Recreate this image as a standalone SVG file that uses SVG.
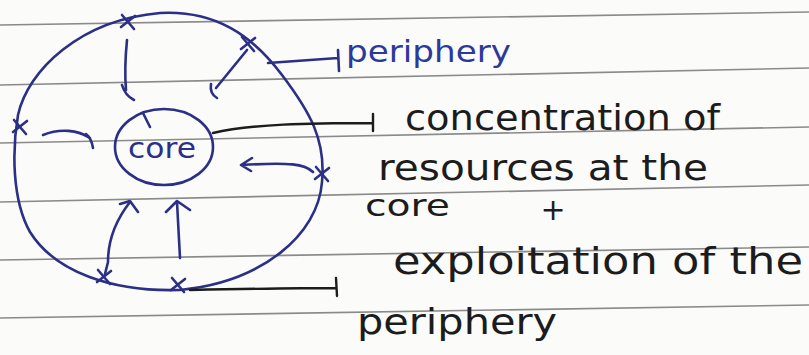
<svg xmlns="http://www.w3.org/2000/svg" width="809" height="355" viewBox="0 0 809 355">
<style>
.rule{stroke:#8a8a8a;stroke-width:1.6;fill:none}
.blue{stroke:#2b2f86;stroke-width:2.6;fill:none;stroke-linecap:round;stroke-linejoin:round}
.ink{stroke:#1c1c1c;stroke-width:2.4;fill:none;stroke-linecap:round;stroke-linejoin:round}
.hand{font-family:"DejaVu Sans",sans-serif;fill:#1c1c1c}
.bluetext{font-family:"DejaVu Sans",sans-serif;fill:#2b3a9a}
</style>
<defs>
<path id="xm" d="M-6,-7 L6,7 M-7,5 L7,-6"/>
</defs>
<rect width="809" height="355" fill="#fbfbfa"/>
<g id="paper-lines">
<line class="rule" x1="0" y1="25" x2="809" y2="12"/>
<line class="rule" x1="0" y1="85" x2="809" y2="68"/>
<line class="rule" x1="0" y1="143" x2="809" y2="127"/>
<line class="rule" x1="0" y1="202" x2="809" y2="185"/>
<line class="rule" x1="0" y1="260" x2="809" y2="247"/>
<line class="rule" x1="0" y1="318" x2="809" y2="305"/>
</g>
<g id="periphery-circle">
<path class="blue" d="M160,13 C215,10 252,35 282,75 C310,112 326,140 322,182 C318,235 262,282 180,290 C112,292 55,272 30,232 C12,200 12,150 18,115 C28,70 80,20 160,13 Z"/>
<use href="#xm" class="blue" x="128" y="22"/>
<use href="#xm" class="blue" x="248" y="44"/>
<use href="#xm" class="blue" x="20" y="127"/>
<use href="#xm" class="blue" x="322" y="174"/>
<use href="#xm" class="blue" x="104" y="277"/>
<use href="#xm" class="blue" x="178" y="285"/>
</g>
<g id="core">
<ellipse class="blue" cx="164" cy="147" rx="49" ry="38"/>
<text x="128" y="158" font-size="28" textLength="68" lengthAdjust="spacingAndGlyphs" style="font-family:'DejaVu Sans',sans-serif;fill:#2b2f86">core</text>
</g>
<g id="connectors">
<path class="blue" d="M127,40 C125,60 125,78 126,90 M122,85 C124,92 128,97 134,100"/>
<path class="blue" d="M247,50 L216,88 M211,84 C210,90 212,95 217,98"/>
<path class="blue" d="M43,135 C60,128 78,130 90,138 M86,134 C90,137 92,142 93,148"/>
<path class="blue" d="M313,172 C305,164 290,162 242,165 M252,158 L241,165 L251,171"/>
<path class="blue" d="M105,274 L108,262 C108,245 112,225 130,202 M120,204 L130,201 L138,212"/>
<path class="blue" d="M180,258 L177,202 M166,212 L177,201 L190,210"/>
<path class="blue" d="M143,113 L150,127"/>
<path class="blue" d="M268,63 L338,58 M338,50 L339,71"/>
<path class="ink" d="M213,133 C250,124 310,123 373,123 M373,114 L373,131"/>
<path class="ink" d="M190,290 C240,289 290,288 336,288 M336,278 L337,296"/>
</g>
<g id="labels">
<text class="bluetext" x="346" y="62" font-size="30" textLength="165" lengthAdjust="spacingAndGlyphs">periphery</text>
<text class="hand" x="405" y="130" font-size="36" textLength="315" lengthAdjust="spacingAndGlyphs">concentration of</text>
<text class="hand" x="378" y="180" font-size="36" textLength="330" lengthAdjust="spacingAndGlyphs">resources at the</text>
<text class="hand" x="365" y="216" font-size="30" textLength="85" lengthAdjust="spacingAndGlyphs">core</text>
<text class="hand" x="553" y="220" font-size="30" text-anchor="middle">+</text>
<text class="hand" x="393" y="274" font-size="38" textLength="410" lengthAdjust="spacingAndGlyphs">exploitation of the</text>
<text class="hand" x="357" y="334" font-size="36" textLength="200" lengthAdjust="spacingAndGlyphs">periphery</text>
</g>
</svg>
